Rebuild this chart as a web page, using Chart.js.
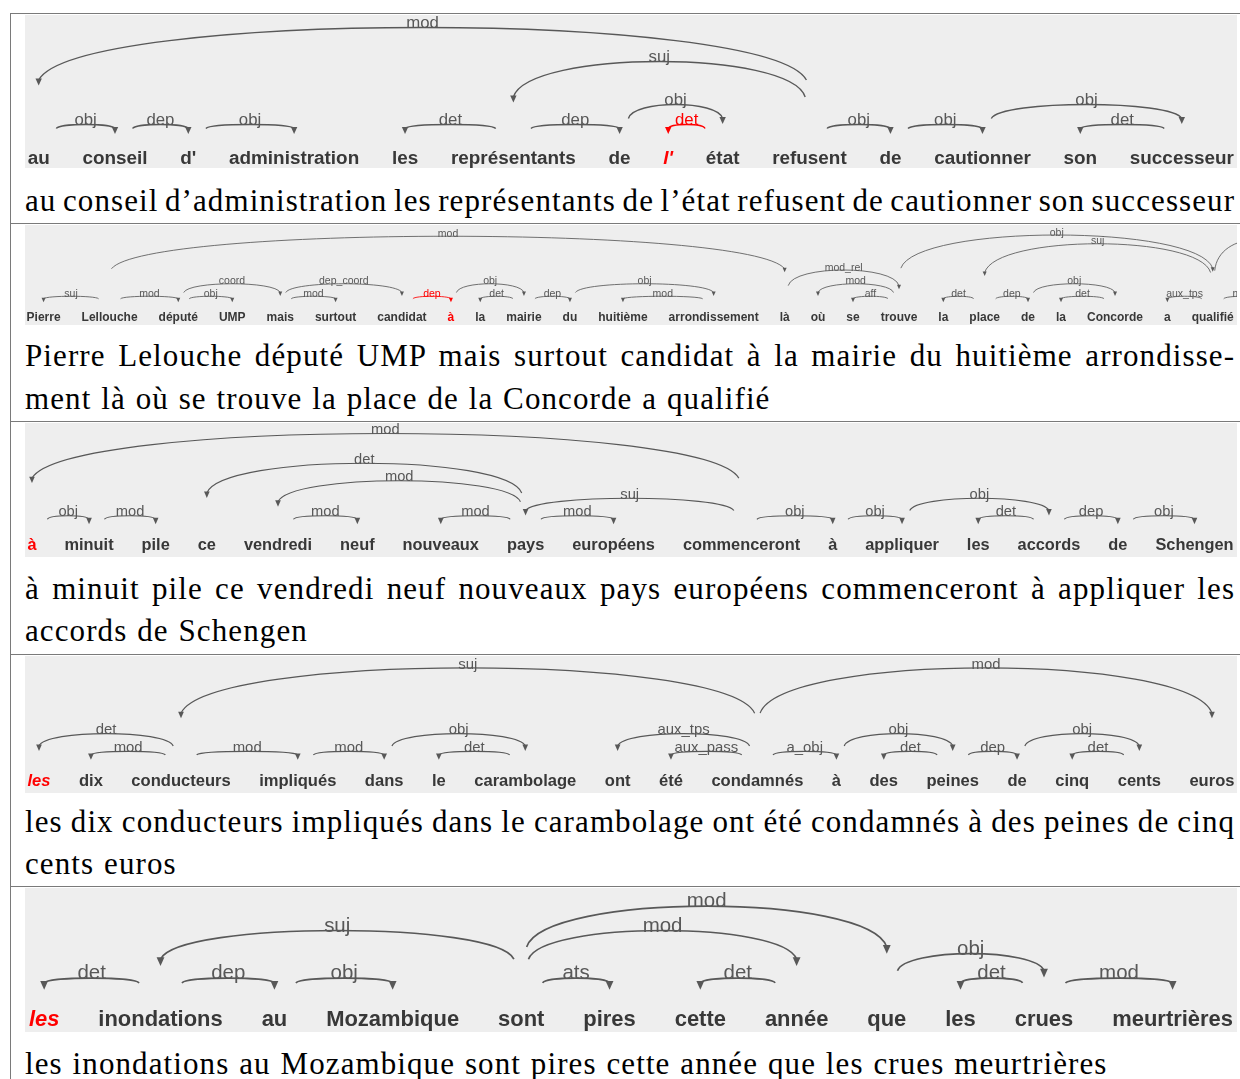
<!DOCTYPE html>
<html><head><meta charset="utf-8">
<script src="https://cdn.jsdelivr.net/npm/chart.js@4.4.1/dist/chart.umd.min.js"></script>
<style>
html,body{margin:0;padding:0;background:#fff;overflow:hidden;width:1240px;height:1079px;}
.rule{position:absolute;background:#7a7a7a;}
.panel{position:absolute;left:25px;width:1212px;background:#eeeeee;overflow:hidden;}
.panel canvas{position:absolute;left:0;top:0;}
.sent{position:absolute;left:25px;font-family:"Liberation Serif",serif;font-size:31px;line-height:42px;color:#000;letter-spacing:1.1px;word-spacing:1px;white-space:nowrap;}
</style></head><body>
<script>
// ---------------- DATA ----------------
const p1Words = ["au","conseil","d'","administration","les","représentants","de","l'","état","refusent","de","cautionner","son","successeur"];
const p1Heads = [0,1,2,5,5,6,8,9,9,9,10,11,13];
const p1Deps  = [1,2,3,4,6,8,7,5,0,10,11,13,12];
const p1Rels  = ["obj","dep","obj","det","dep","obj","det","suj","mod","obj","obj","obj","det"];
const p1Levels = [1,1,1,1,1,2,1,4.15,5.85,1,1,2,1];

const p2Words = ["Pierre","Lellouche","député","UMP","mais","surtout","candidat","à","la","mairie","du","huitième","arrondissement","là","où","se","trouve","la","place","de","la","Concorde","a","qualifié","de","la"];
const p2Heads = [1,1,2,2,4,4,6,7,9,9,10,12,1,13,16,16,18,18,19,21,16,23,23,23,23];
const p2Deps  = [0,2,4,3,6,5,7,9,8,10,12,11,13,16,14,15,17,19,21,20,23,18,22,24,25];
const p2Rels  = ["suj","mod","coord","obj","dep_coord","mod","dep","obj","det","dep","obj","mod","mod","mod_rel","mod","aff","det","dep","obj","det","obj","suj","aux_tps","mod","obj"];
const p2Levels = [1,1,2,1,2,1,1,2,1,1,2,1,5.8,3.1,2,1,1,1,2,1,5.9,5.2,1,1,5.5];

const p3Words = ["à","minuit","pile","ce","vendredi","neuf","nouveaux","pays","européens","commenceront","à","appliquer","les","accords","de","Schengen"];
const p3Heads = [0,1,4,7,7,9,7,7,9,9,10,11,13,13,14];
const p3Deps  = [1,2,5,6,8,7,4,3,0,10,11,13,12,14,15];
const p3Rels  = ["obj","mod","mod","mod","mod","suj","mod","det","mod","obj","obj","obj","det","dep","obj"];
const p3Levels = [1,1,1,1,1,2,3,4,5.7,1,1,2,1,1,1];

const p4Words = ["les","dix","conducteurs","impliqués","dans","le","carambolage","ont","été","condamnés","à","des","peines","de","cinq","cents","euros"];
const p4Heads = [2,2,9,9,2,3,4,6,9,9,9,10,12,12,13,15];
const p4Deps  = [0,1,2,16,3,4,6,5,7,8,10,12,11,13,15,14];
const p4Rels  = ["det","mod","suj","mod","mod","mod","obj","det","aux_tps","aux_pass","a_obj","obj","det","dep","obj","det"];
const p4Levels = [2,1,5.7,5.7,1,1,2,1,2,1,1,2,1,1,2,1];

const p5Words = ["les","inondations","au","Mozambique","sont","pires","cette","année","que","les","crues","meurtrières"];
const p5Heads = [1,1,2,4,4,7,4,4,8,10,10];
const p5Deps  = [0,2,3,1,5,6,7,8,10,9,11];
const p5Rels  = ["det","dep","obj","suj","ats","det","mod","mod","obj","det","mod"];
const p5Levels = [1,1,1,2.95,1,1,2.95,3.95,2,1,1];

// highlighted (red) word and arcs
const redWords = [7,7,0,0,0];
const redItalic = [true,false,false,true,true];
const redArcs = [[6],[6],[],[],[]];

const sentence1 = ["au conseil d’administration les représentants de l’état refusent de cautionner son successeur"];
const sentence2 = ["Pierre Lelouche député UMP mais surtout candidat à la mairie du huitième arrondisse-","ment là où se trouve la place de la Concorde a qualifié"];
const sentence3 = ["à minuit pile ce vendredi neuf nouveaux pays européens commenceront à appliquer les","accords de Schengen"];
const sentence4 = ["les dix conducteurs impliqués dans le carambolage ont été condamnés à des peines de cinq","cents euros"];
const sentence5 = ["les inondations au Mozambique sont pires cette année que les crues meurtrières"];

// ---------------- LAYOUT (positions / styles) ----------------
const layoutCfg = [
  {top:15,  h:153, wordC:143.5, s:1.6,  fs:1.575, gap:32.75, lines:[201], justify:[true]},
  {top:225, h:100, wordC:92.5,  s:1.0,  fs:1.0,   gap:21,    lines:[356,399], justify:[true,false]},
  {top:423, h:134, wordC:122.5, s:1.4,  fs:1.365, gap:28,    lines:[589,631], justify:[true,false]},
  {top:656, h:137, wordC:125.5, s:1.42, fs:1.38,  gap:28.5,  lines:[822,864], justify:[true,false]},
  {top:888, h:144, wordC:131.5, s:1.95, fs:1.83,  gap:39,    lines:[1064], justify:[false]}
];
const panelsData = [
  {words:p1Words, heads:p1Heads, deps:p1Deps, rels:p1Rels, levels:p1Levels, sent:sentence1},
  {words:p2Words, heads:p2Heads, deps:p2Deps, rels:p2Rels, levels:p2Levels, sent:sentence2},
  {words:p3Words, heads:p3Heads, deps:p3Deps, rels:p3Rels, levels:p3Levels, sent:sentence3},
  {words:p4Words, heads:p4Heads, deps:p4Deps, rels:p4Rels, levels:p4Levels, sent:sentence4},
  {words:p5Words, heads:p5Heads, deps:p5Deps, rels:p5Rels, levels:p5Levels, sent:sentence5}
];
const CW = 1400;
const TEXT_W = 1209;
const WORD_COLOR = '#383838', ARC_COLOR = '#585858', RED = '#ff0000';

function addRule(x, y, w, h) {
  const d = document.createElement('div');
  d.className = 'rule';
  d.style.left = x + 'px'; d.style.top = y + 'px'; d.style.width = w + 'px'; d.style.height = h + 'px';
  document.body.appendChild(d);
}
addRule(10, 13, 1230, 1);
[223, 421, 654, 886].forEach(y => addRule(10, y, 1230, 1));
addRule(10, 13, 1, 1066);

function wordFont(pi, i) {
  const fs = layoutCfg[pi].fs;
  return {family:'"Liberation Sans", Arial, sans-serif', size: 12 * fs, weight: 'bold',
          style: (i === redWords[pi] && redItalic[pi]) ? 'italic' : 'normal', lineHeight: 1.2};
}

const measurer = document.createElement('canvas').getContext('2d');

panelsData.forEach((P, pi) => {
  const L = layoutCfg[pi], s = L.s;
  // word centres from text widths + constant gap
  let x = 1.5 * s;
  const centers = P.words.map((w, i) => {
    const f = wordFont(pi, i);
    measurer.font = `${f.style} ${f.weight} ${f.size}px ${f.family}`;
    const wd = measurer.measureText(w).width;
    const c = x + wd / 2;
    x += wd + L.gap;
    return c;
  });

  const div = document.createElement('div');
  div.className = 'panel';
  div.style.top = L.top + 'px'; div.style.height = L.h + 'px';
  document.body.appendChild(div);
  const CH = L.h + 30;
  const cv = document.createElement('canvas');
  cv.width = CW; cv.height = CH;
  cv.style.width = CW + 'px'; cv.style.height = CH + 'px';
  div.appendChild(cv);

  const F = 12 * L.fs;
  const bottom = L.wordC - 8.75 * s;
  const pad = 8.75 * s - 0.6 * F;
  const axisH = 1.2 * F + 2 * pad;
  const padBottom = CH - bottom - axisH;
  const yMax = bottom / (12.5 * s);

  const arcPlugin = {
    id: 'deparcs' + pi,
    afterDraw(chart) {
      const ctx = chart.ctx, xs = chart.scales.x, ys = chart.scales.y;
      ctx.save();
      P.heads.forEach((h, i) => {
        const d = P.deps[i], lv = P.levels[i];
        const dir = Math.sign(d - h);
        const xh = xs.getPixelForValue(centers[h]) + dir * 11 * s / lv;
        const xd = xs.getPixelForValue(centers[d]);
        const yEnd = ys.getPixelForValue(0.3 + 0.5 * lv);
        const yTop = ys.getPixelForValue(lv);
        const yC = yEnd + (yTop - yEnd) / 0.75;
        const dx = xd - xh;
        const col = redArcs[pi].includes(i) ? RED : ARC_COLOR;
        ctx.strokeStyle = col; ctx.fillStyle = col;
        ctx.lineWidth = 0.85 * s;
        ctx.beginPath();
        ctx.moveTo(xh, yEnd);
        ctx.bezierCurveTo(xh + 0.05 * dx, yC, xd - 0.05 * dx, yC, xd, yEnd);
        ctx.stroke();
        ctx.beginPath();
        ctx.moveTo(xd - 2 * s, yEnd - 1 * s);
        ctx.lineTo(xd + 2 * s, yEnd - 1 * s);
        ctx.lineTo(xd, yEnd + 3.5 * s);
        ctx.closePath(); ctx.fill();
        ctx.font = `${10.5 * s}px "Liberation Sans", Arial, sans-serif`;
        ctx.textAlign = 'center'; ctx.textBaseline = 'alphabetic';
        ctx.fillText(P.rels[i], (xh + xd) / 2, yTop + 0.5 * s);
      });
      ctx.restore();
    }
  };

  new Chart(cv, {
    type: 'scatter',
    data: { datasets: [] },
    options: {
      responsive: false, maintainAspectRatio: false, animation: false, devicePixelRatio: 1,
      layout: { padding: { left: 0, right: 0, top: 0, bottom: padBottom } },
      plugins: { legend: { display: false }, tooltip: { enabled: false }, title: { display: false } },
      scales: {
        x: {
          type: 'linear', min: 0, max: CW, bounds: 'data',
          afterBuildTicks: (scale) => { scale.ticks = centers.map(v => ({ value: v })); },
          grid: { display: false, drawTicks: false }, border: { display: false },
          ticks: {
            autoSkip: false, maxRotation: 0, minRotation: 0, padding: pad,
            callback: (v, i) => P.words[i],
            font: (c) => wordFont(pi, c.index),
            color: (c) => c.index === redWords[pi] ? RED : WORD_COLOR
          }
        },
        y: { display: false, min: 0, max: yMax }
      }
    },
    plugins: [arcPlugin]
  });

  // sentence lines (justified lines get their word spacing fitted to the text width)
  P.sent.forEach((t, li) => {
    const sd = document.createElement('div');
    sd.className = 'sent';
    sd.style.top = (L.lines[li] - 21) + 'px';
    const sp = document.createElement('span');
    sp.textContent = t;
    sd.appendChild(sp);
    document.body.appendChild(sd);
    if (L.justify[li]) {
      const nat = sp.getBoundingClientRect().width - 1.1;
      const n = (t.match(/ /g) || []).length;
      sd.style.wordSpacing = (1 + (TEXT_W - nat) / n) + 'px';
    }
  });
});
</script>
</body></html>
